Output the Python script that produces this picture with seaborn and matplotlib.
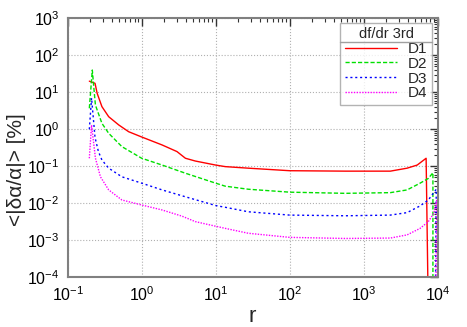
import numpy as np
import pandas as pd
import matplotlib
matplotlib.use("Agg")
import matplotlib.pyplot as plt
import seaborn as sns
from matplotlib.lines import Line2D
from matplotlib.ticker import LogLocator, NullFormatter

# ---- data ----
r_d1 = [0.196, 0.234, 0.25, 0.29, 0.358, 0.49, 0.667, 1.0, 1.89, 3.0, 3.9, 5.3, 10, 13.5, 27.6, 100, 565, 2300, 3870, 5300, 7000, 7500]
v_d1 = [20, 17.5, 9.4, 4.1, 2.19, 1.31, 0.86, 0.62, 0.377, 0.25, 0.165, 0.139, 0.108, 0.098, 0.089, 0.076, 0.074, 0.074, 0.089, 0.108, 0.165, 1e-5]

r_d2 = [0.196, 0.215, 0.229, 0.237, 0.29, 0.358, 0.54, 1.0, 1.89, 3.9, 10, 13.5, 27.6, 100, 565, 2300, 3870, 5800, 7500, 8650, 8650]
v_d2 = [3.7, 40, 9.4, 4.5, 1.45, 0.78, 0.34, 0.165, 0.108, 0.065, 0.035, 0.029, 0.024, 0.020, 0.0186, 0.0194, 0.023, 0.035, 0.047, 0.067, 1e-5]

r_d3 = [0.196, 0.21, 0.234, 0.26, 0.29, 0.358, 0.54, 1.0, 1.89, 3.9, 10, 13.5, 27.6, 100, 565, 2300, 3870, 5800, 7500, 9600, 9300]
v_d3 = [1.0, 7.0, 0.6, 0.25, 0.148, 0.089, 0.052, 0.035, 0.023, 0.015, 0.0087, 0.0078, 0.0059, 0.0048, 0.0046, 0.0048, 0.0056, 0.0085, 0.0123, 0.024, 1e-5]

r_d4 = [0.196, 0.21, 0.237, 0.277, 0.358, 0.54, 1.0, 1.89, 3.5, 5.3, 10, 13.5, 27.6, 100, 565, 2300, 3870, 5800, 7500, 8900, 9800, 9400]
v_d4 = [0.165, 1.3, 0.165, 0.052, 0.023, 0.0123, 0.009, 0.0066, 0.0045, 0.0032, 0.0024, 0.0021, 0.00155, 0.0012, 0.00112, 0.00115, 0.0014, 0.0021, 0.0032, 0.0054, 0.012, 1e-5]

series_names = ["D1", "D2", "D3", "D4"]
legend_title = "df/dr 3rd"
x_label = "r"
y_label = "<|δα/α|> [%]"

series = [(r_d1, v_d1), (r_d2, v_d2), (r_d3, v_d3), (r_d4, v_d4)]
colors = ["#ff0000", "#00e000", "#0000ff", "#ff00ff"]
dashes = [None, (3, 1.5), (1.5, 2), (1, 1)]

sns.set_theme(style="white")
plt.rcParams["font.family"] = ["Liberation Sans", "DejaVu Sans"]
plt.rcParams["mathtext.fontset"] = "custom"
plt.rcParams["mathtext.rm"] = "Liberation Sans"
plt.rcParams["mathtext.it"] = "Liberation Sans:italic"

fig = plt.figure(figsize=(4.67, 3.27), dpi=100)
ax = fig.add_axes([0.145, 0.152, 0.792, 0.792])

for (rr, vv), name, c, d in zip(series, series_names, colors, dashes):
    df = pd.DataFrame({"r": rr, "v": vv})
    sns.lineplot(data=df, x="r", y="v", ax=ax, color=c, lw=1.0, sort=False,
                 estimator=None, label=name)
    if d is not None:
        ax.lines[-1].set_dashes(d)

ax.set_xscale("log")
ax.set_yscale("log")
ax.set_xlim(0.1, 1e4)
ax.set_ylim(1e-4, 1e3)

ax.xaxis.set_major_locator(LogLocator(base=10, numticks=20))
ax.yaxis.set_major_locator(LogLocator(base=10, numticks=20))
ax.xaxis.set_minor_locator(LogLocator(base=10, subs=np.arange(2, 10), numticks=100))
ax.yaxis.set_minor_locator(LogLocator(base=10, subs=np.arange(2, 10), numticks=100))
ax.xaxis.set_minor_formatter(NullFormatter())
ax.yaxis.set_minor_formatter(NullFormatter())

ax.tick_params(which="both", direction="in", top=True, right=True, colors="#333333",
               labelcolor="black", labelsize=11.5)
ax.tick_params(which="major", length=6, width=1.0, pad=6)
ax.tick_params(which="minor", length=3, width=0.8)

for s in ax.spines.values():
    s.set_color("#808080")
    s.set_linewidth(1.5)

ax.grid(True, which="major", ls=":", color="#b0b0b0", lw=0.8)

ax.set_xlabel(x_label, fontsize=16, labelpad=1.5)
ax.set_ylabel(y_label, fontsize=15)
ax.yaxis.set_label_coords(-0.113, 0.414)

leg = ax.legend(title=legend_title, loc="upper right", bbox_to_anchor=(0.984, 0.983),
                frameon=True, fancybox=False, edgecolor="#a0a0a0", fontsize=11,
                title_fontsize=10.5, handlelength=3.4, handletextpad=0.7,
                borderaxespad=0.0, labelspacing=0.05, borderpad=0.3)
leg.get_frame().set_linewidth(1.0)

fig.canvas.draw()
# separator line under the legend title
bb = leg.get_frame().get_window_extent()
tb = leg.get_title().get_window_extent()
y_sep = tb.y0 - 1
fig.add_artist(Line2D([bb.x0 / fig.bbox.width, bb.x1 / fig.bbox.width],
                      [y_sep / fig.bbox.height, y_sep / fig.bbox.height],
                      transform=fig.transFigure, color="#a0a0a0", lw=1.0))

fig.savefig("out.png", dpi=100)
